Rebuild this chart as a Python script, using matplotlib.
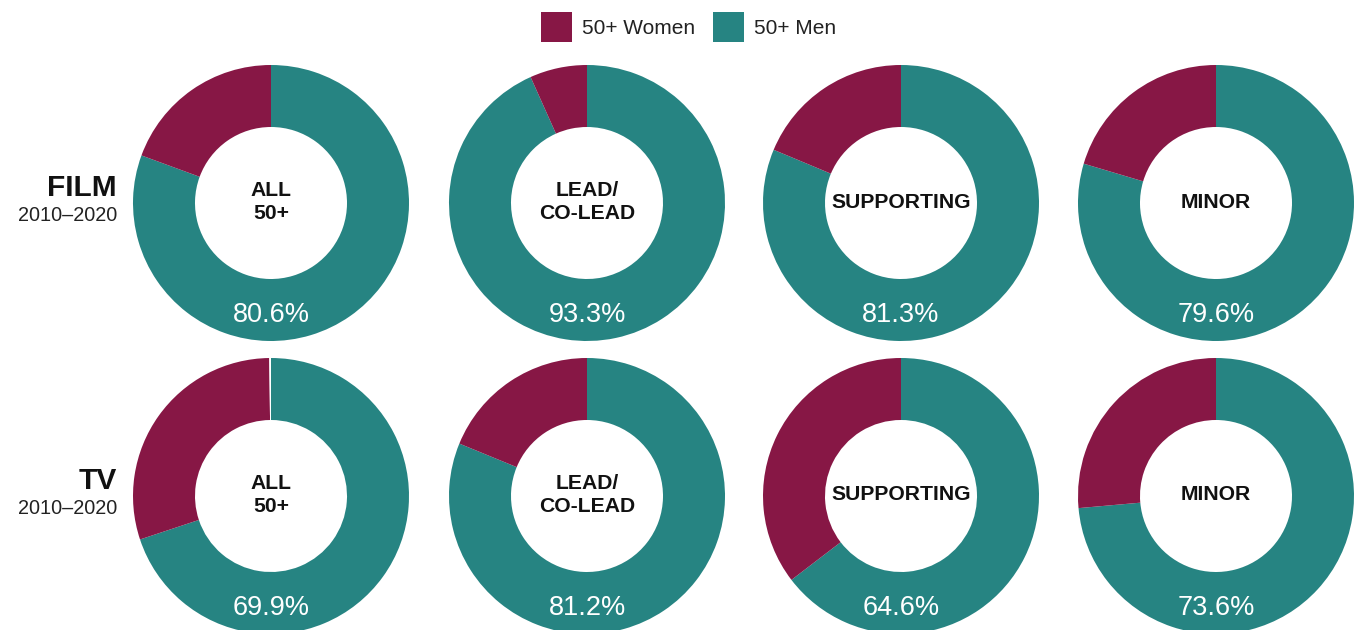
import matplotlib
matplotlib.use("Agg")
import matplotlib.pyplot as plt
from matplotlib.patches import Rectangle

# * - - - Data (share of 50+ characters, men)
roles = ["ALL\n50+", "LEAD/\nCO-LEAD", "SUPPORTING", "MINOR"]
rows = ["FILM", "TV"]
years = "2010–2020"
men_film = [80.6, 93.3, 81.3, 79.6]
women_film = [19.4, 6.7, 18.7, 20.4]
men_tv = [69.9, 81.2, 64.6, 73.6]
women_tv = [29.9, 18.8, 35.4, 26.4]
gap_tv = [0.2, 0.0, 0.0, 0.0]  # thin white sliver at top of TV "ALL 50+"
legend_labels = ["50+ Women", "50+ Men"]

c_women = "#871745"
c_men = "#268482"

# * - - - Figure in pixel units (1 data unit = 1 px)
W, H = 1355, 630
fig = plt.figure(figsize=(W / 100, H / 100), dpi=100)
ax = fig.add_axes([0, 0, 1, 1])

col_x = [271, 587, 901, 1216]
row_y = [H - 203, H - 496]
r_out = 138
ring = 62

for ri, (men, women) in enumerate([(men_film, women_film), (men_tv, women_tv)]):
    cy = row_y[ri]
    for ci in range(4):
        cx = col_x[ci]
        vals = [men[ci], women[ci]]
        cols = [c_men, c_women]
        if ri == 1 and gap_tv[ci] > 0:
            vals.append(gap_tv[ci])
            cols.append("white")
        ax.pie(vals, colors=cols, startangle=90, counterclock=False,
               center=(cx, cy), radius=r_out,
               wedgeprops=dict(width=ring, linewidth=0), normalize=True)
        ax.text(cx, cy + 1, roles[ci], ha="center", va="center",
                fontsize=15.2, fontweight="bold", family="Liberation Sans",
                linespacing=1.32, color="#111111")
        ax.text(cx, cy - 109, f"{men[ci]:.1f}%", ha="center", va="center_baseline",
                fontsize=19.5, family="Liberation Sans", color="white")

# * - - - Row labels
for ri, name in enumerate(rows):
    cy = row_y[ri]
    ax.text(117, cy + 7, name, ha="right", va="baseline",
            fontsize=21.5, fontweight="bold", family="Liberation Sans", color="#111111")
    ax.text(117, cy - 18, years, ha="right", va="baseline",
            fontsize=14.3, family="Liberation Sans", color="#222222")

# * - - - Legend on top (drawn by hand for exact placement)
for x0, col, lab in zip([541, 713], [c_women, c_men], legend_labels):
    ax.add_patch(Rectangle((x0, H - 42), 31, 30, color=col, lw=0))
    ax.text(x0 + 41, H - 27, lab, ha="left", va="center_baseline",
            fontsize=15, family="Liberation Sans", color="#222222")

ax.set_xlim(0, W)
ax.set_ylim(0, H)
ax.set_aspect("equal")
ax.axis("off")

fig.savefig("out.png", dpi=100)
